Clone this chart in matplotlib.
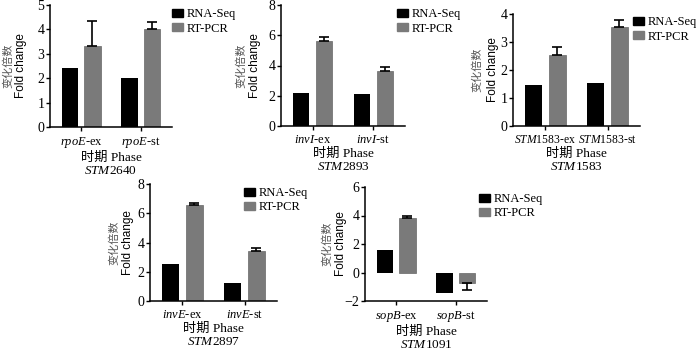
import matplotlib
matplotlib.use("Agg")
import matplotlib.pyplot as plt
from matplotlib.patches import Patch
import numpy as np

plt.rcParams['font.family'] = ['Liberation Serif', 'Noto Sans CJK SC']
plt.rcParams['mathtext.fontset'] = 'custom'
plt.rcParams['mathtext.rm'] = 'Liberation Serif'
plt.rcParams['mathtext.it'] = 'Liberation Serif:italic'

# data
genes = ['STM2640', 'STM2893', 'STM1583', 'STM2897', 'STM1091']
ticks = [
    [r'$\mathit{rpoE}$-ex', r'$\mathit{rpoE}$-st'],
    [r'$\mathit{invI}$-ex', r'$\mathit{invI}$-st'],
    [r'$\mathit{STM}$1583-ex', r'$\mathit{STM}$1583-st'],
    [r'$\mathit{invE}$-ex', r'$\mathit{invE}$-st'],
    [r'$\mathit{sopB}$-ex', r'$\mathit{sopB}$-st'],
]
rnaseq = [[2.4, 2.0], [2.15, 2.1], [1.45, 1.55], [2.55, 1.25], [1.55, -1.45]]
rtpcr = [[3.3, 4.0], [5.65, 3.65], [2.55, 3.55], [6.55, 3.45], [3.85, -0.75]]
rtpcr_err = [[1.05, 0.3], [0.25, 0.25], [0.28, 0.25], [0.15, 0.15], [0.15, 0.5]]
ylims = [(0, 5), (0, 8), (0, 4), (0, 8), (-2, 6)]
ysteps = [1, 2, 1, 2, 2]

W, H = 700, 352
# axes boxes in pixels: left, top, right, bottom
boxes = [(50, 5, 172, 127), (281, 5, 405, 126), (513, 14, 640, 126),
         (150, 184, 277, 301), (365, 187, 487, 301)]
legpos = [(172, 8), (397, 8), (633, 16), (244, 187), (479, 193)]
ylab_dx = [(-42, -29), (-40, -26), (-36, -20), (-36, -22), (-38, -24)]
tick_fs = [9, 9, 8.4, 9, 9]

black = '#000000'
grey = '#7a7a7a'

fig = plt.figure(figsize=(7, 3.52), dpi=100)

for i in range(5):
    l, t, r, b = boxes[i]
    ax = fig.add_axes([l / W, 1 - b / H, (r - l) / W, (b - t) / H])
    x = np.arange(2)
    v = np.array(rtpcr[i])
    e = np.array(rtpcr_err[i])
    up = np.where(v >= 0, e, 0)
    lo = np.where(v < 0, e, 0)
    ax.bar(x - 0.19, rnaseq[i], 0.27, color=black)
    ax.bar(x + 0.19, v, 0.27, color=grey, edgecolor='#666666', linewidth=0.5)
    ax.errorbar(x + 0.19, v, yerr=[lo, up], fmt='none', ecolor='black',
                elinewidth=1.2, capsize=3.5, capthick=1.2)
    ax.set_xlim(-0.52, 1.52)
    ax.set_ylim(*ylims[i])
    ax.set_yticks(np.arange(ylims[i][0], ylims[i][1] + 0.1, ysteps[i]))
    ax.set_xticks(x)
    ax.set_xticklabels(ticks[i], fontsize=tick_fs[i])
    ax.tick_params(axis='y', labelsize=10, length=3, width=1, pad=1)
    ax.tick_params(axis='x', length=3, width=1, pad=3)
    for s in ['top', 'right']:
        ax.spines[s].set_visible(False)
    for s in ['left', 'bottom']:
        ax.spines[s].set_linewidth(1.1)
    ax.set_xlabel('时期 Phase\n$\\mathit{STM}$' + genes[i][3:], fontsize=9.5,
                  labelpad=1, linespacing=1.15)

    ym = 1 - (t + b) / 2 / H
    fig.text((l + ylab_dx[i][0]) / W, ym, '变化倍数', rotation=90, ha='center',
             va='center', fontsize=8, color='#555555')
    fig.text((l + ylab_dx[i][1]) / W, ym, 'Fold change', rotation=90, ha='center',
             va='center', fontsize=8.5, family='Liberation Sans')

    handles = [Patch(color=black), Patch(color=grey)]
    lx, ly = legpos[i]
    fig.legend(handles, ['RNA-Seq', 'RT-PCR'], loc='upper left',
               bbox_to_anchor=(lx / W, 1 - ly / H), frameon=False, fontsize=9,
               borderpad=0, borderaxespad=0, handlelength=0.9, handleheight=0.6,
               handletextpad=0.3, labelspacing=0.2)

fig.savefig('out.png', dpi=100)
